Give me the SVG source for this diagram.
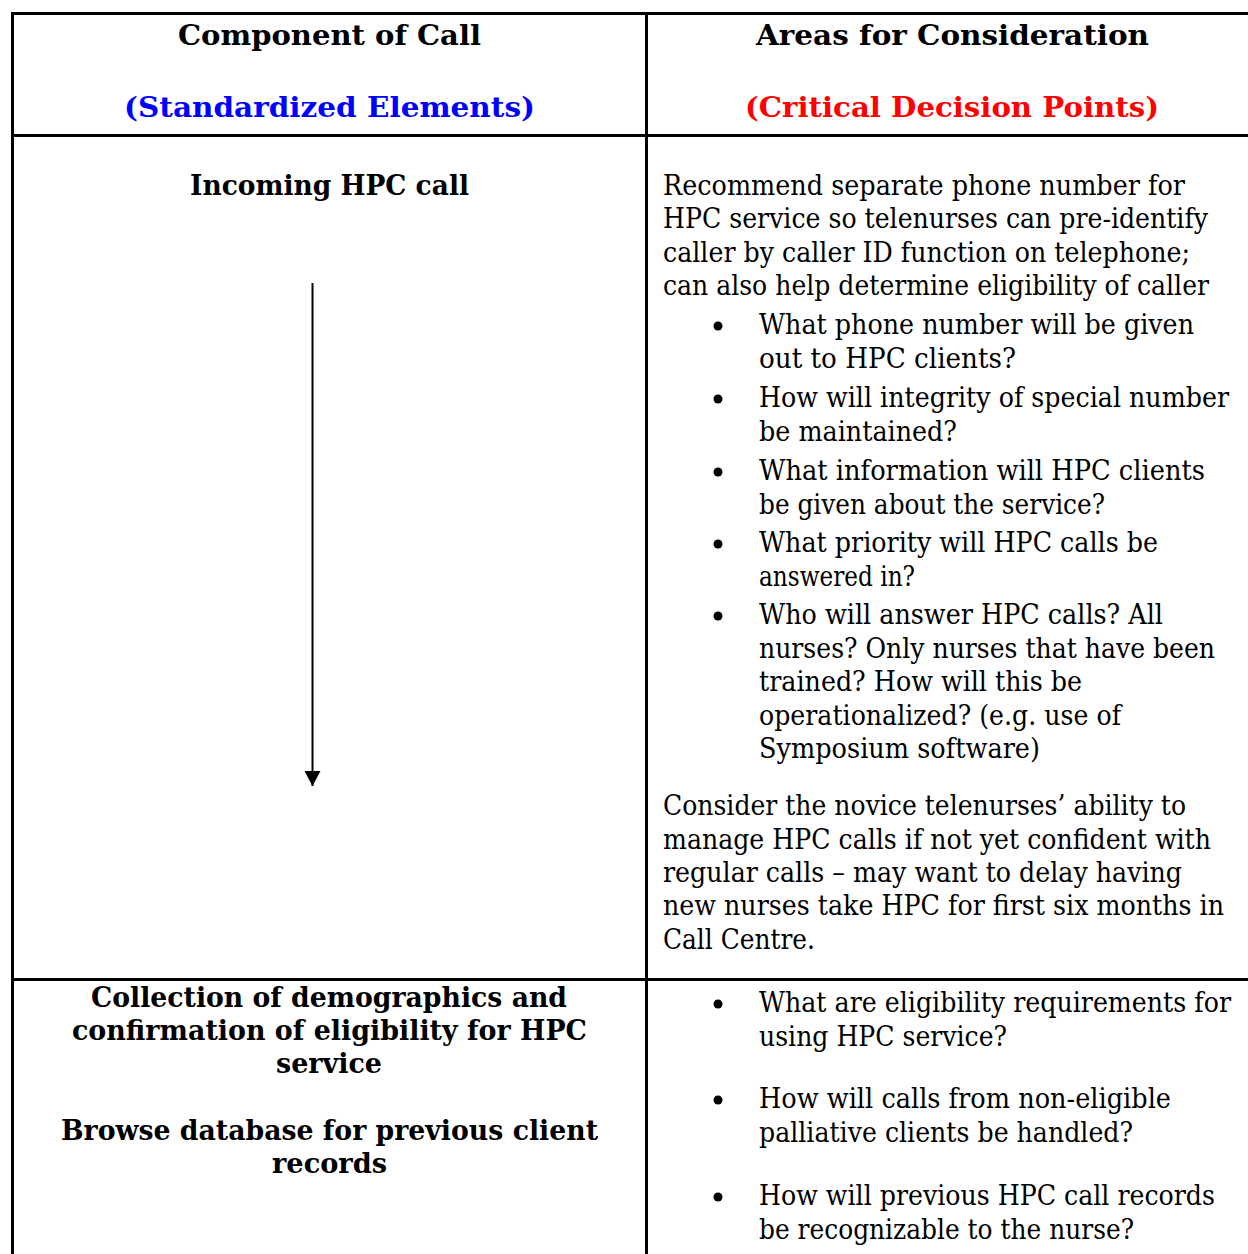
<svg xmlns="http://www.w3.org/2000/svg" width="1248" height="1254" viewBox="0 0 1248 1254">
<defs>
<style>
.grid{stroke:#000;stroke-width:3;fill:none}
.b{font-family:"DejaVu Serif","Liberation Serif",serif;font-size:28px;font-weight:bold;fill:#000}
.t{font-family:"DejaVu Serif","Liberation Serif",serif;font-size:27px;fill:#000}
.blue{fill:#0000ff}
.red{fill:#ff0000}
.dot{fill:#000}
</style>
<marker id="ah" markerWidth="16" markerHeight="16" viewBox="0 0 16 16" refX="15" refY="8" orient="auto" markerUnits="userSpaceOnUse">
<path d="M0,0 L15,8 L0,16 Z" fill="#000"/>
</marker>
</defs>
<rect width="1248" height="1254" fill="#fff"/>
<g id="table">
<line class="grid" x1="11" y1="13.5" x2="1248" y2="13.5"/>
<line class="grid" x1="12.5" y1="12" x2="12.5" y2="1254"/>
<line class="grid" x1="646.5" y1="12" x2="646.5" y2="1254"/>
<line class="grid" x1="11" y1="135.5" x2="1248" y2="135.5"/>
<line class="grid" x1="11" y1="979.5" x2="1248" y2="979.5"/>
</g>
<g id="header-left">
<text class="b" x="178" y="45" textLength="303" lengthAdjust="spacingAndGlyphs">Component of Call</text>
<text class="b blue" x="124" y="117" textLength="411" lengthAdjust="spacingAndGlyphs">(Standardized Elements)</text>
</g>
<g id="header-right">
<text class="b" x="756" y="45" textLength="393" lengthAdjust="spacingAndGlyphs">Areas for Consideration</text>
<text class="b red" x="745" y="117" textLength="414" lengthAdjust="spacingAndGlyphs">(Critical Decision Points)</text>
</g>
<g id="node-incoming">
<text class="b" x="190" y="195" textLength="279" lengthAdjust="spacingAndGlyphs">Incoming HPC call</text>
</g>
<g id="connectors">
<line x1="312.5" y1="283" x2="312.5" y2="786" stroke="#000" stroke-width="2" marker-end="url(#ah)"/>
</g>
<g id="node-considerations-1">
<text class="t" x="663" y="195" textLength="522" lengthAdjust="spacingAndGlyphs">Recommend separate phone number for</text>
<text class="t" x="663" y="228" textLength="545" lengthAdjust="spacingAndGlyphs">HPC service so telenurses can pre-identify</text>
<text class="t" x="663" y="262" textLength="527" lengthAdjust="spacingAndGlyphs">caller by caller ID function on telephone;</text>
<text class="t" x="663" y="295" textLength="546" lengthAdjust="spacingAndGlyphs">can also help determine eligibility of caller</text>
<circle class="dot" cx="718" cy="326" r="4.5"/>
<text class="t" x="759" y="334" textLength="435" lengthAdjust="spacingAndGlyphs">What phone number will be given</text>
<text class="t" x="759" y="368" textLength="257" lengthAdjust="spacingAndGlyphs">out to HPC clients?</text>
<circle class="dot" cx="718" cy="399" r="4.5"/>
<text class="t" x="759" y="407" textLength="470" lengthAdjust="spacingAndGlyphs">How will integrity of special number</text>
<text class="t" x="759" y="441" textLength="198" lengthAdjust="spacingAndGlyphs">be maintained?</text>
<circle class="dot" cx="718" cy="472" r="4.5"/>
<text class="t" x="759" y="480" textLength="446" lengthAdjust="spacingAndGlyphs">What information will HPC clients</text>
<text class="t" x="759" y="514" textLength="346" lengthAdjust="spacingAndGlyphs">be given about the service?</text>
<circle class="dot" cx="718" cy="544" r="4.5"/>
<text class="t" x="759" y="552" textLength="399" lengthAdjust="spacingAndGlyphs">What priority will HPC calls be</text>
<text class="t" x="759" y="586" textLength="156" lengthAdjust="spacingAndGlyphs">answered in?</text>
<circle class="dot" cx="718" cy="616" r="4.5"/>
<text class="t" x="759" y="624" textLength="404" lengthAdjust="spacingAndGlyphs">Who will answer HPC calls? All</text>
<text class="t" x="759" y="658" textLength="456" lengthAdjust="spacingAndGlyphs">nurses? Only nurses that have been</text>
<text class="t" x="759" y="691" textLength="323" lengthAdjust="spacingAndGlyphs">trained? How will this be</text>
<text class="t" x="759" y="725" textLength="362" lengthAdjust="spacingAndGlyphs">operationalized? (e.g. use of</text>
<text class="t" x="759" y="758" textLength="281" lengthAdjust="spacingAndGlyphs">Symposium software)</text>
<text class="t" x="663" y="815" textLength="523" lengthAdjust="spacingAndGlyphs">Consider the novice telenurses’ ability to</text>
<text class="t" x="663" y="849" textLength="548" lengthAdjust="spacingAndGlyphs">manage HPC calls if not yet confident with</text>
<text class="t" x="663" y="882" textLength="519" lengthAdjust="spacingAndGlyphs">regular calls – may want to delay having</text>
<text class="t" x="663" y="915" textLength="561" lengthAdjust="spacingAndGlyphs">new nurses take HPC for first six months in</text>
<text class="t" x="663" y="949" textLength="152" lengthAdjust="spacingAndGlyphs">Call Centre.</text>
</g>
<g id="node-collection">
<text class="b" x="91" y="1007" textLength="476" lengthAdjust="spacingAndGlyphs">Collection of demographics and</text>
<text class="b" x="72" y="1040" textLength="515" lengthAdjust="spacingAndGlyphs">confirmation of eligibility for HPC</text>
<text class="b" x="276" y="1073" textLength="106" lengthAdjust="spacingAndGlyphs">service</text>
<text class="b" x="61" y="1140" textLength="537" lengthAdjust="spacingAndGlyphs">Browse database for previous client</text>
<text class="b" x="272" y="1173" textLength="115" lengthAdjust="spacingAndGlyphs">records</text>
</g>
<g id="node-considerations-2">
<circle class="dot" cx="718" cy="1004" r="4.5"/>
<text class="t" x="759" y="1012" textLength="472" lengthAdjust="spacingAndGlyphs">What are eligibility requirements for</text>
<text class="t" x="759" y="1046" textLength="248" lengthAdjust="spacingAndGlyphs">using HPC service?</text>
<circle class="dot" cx="718" cy="1100" r="4.5"/>
<text class="t" x="759" y="1108" textLength="412" lengthAdjust="spacingAndGlyphs">How will calls from non-eligible</text>
<text class="t" x="759" y="1142" textLength="374" lengthAdjust="spacingAndGlyphs">palliative clients be handled?</text>
<circle class="dot" cx="718" cy="1197" r="4.5"/>
<text class="t" x="759" y="1205" textLength="456" lengthAdjust="spacingAndGlyphs">How will previous HPC call records</text>
<text class="t" x="759" y="1239" textLength="375" lengthAdjust="spacingAndGlyphs">be recognizable to the nurse?</text>
</g>
</svg>
